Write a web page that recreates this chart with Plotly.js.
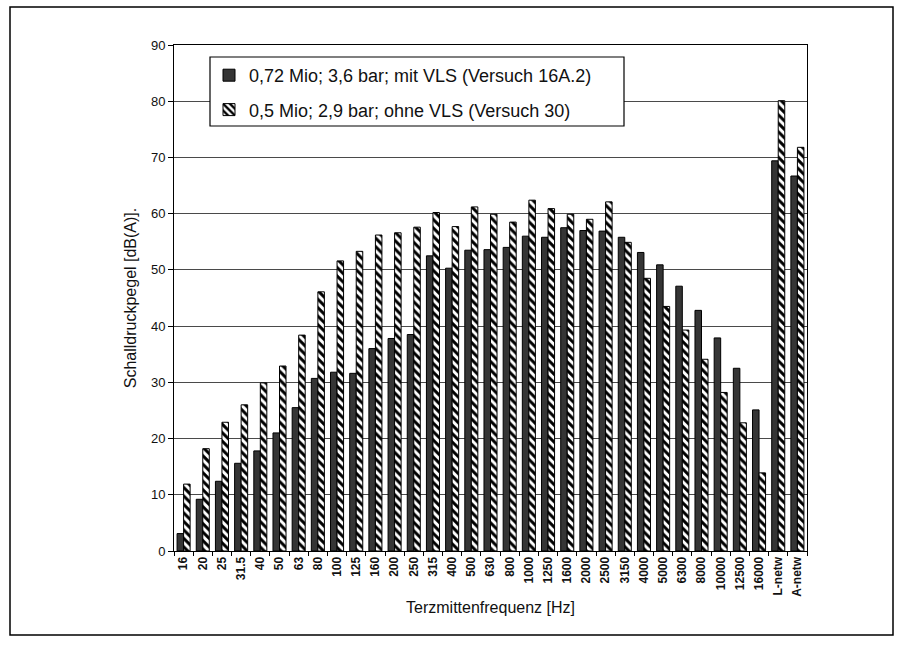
<!DOCTYPE html>
<html>
<head>
<meta charset="utf-8">
<script src="https://cdn.plot.ly/plotly-3.0.1.min.js"></script>
<style>
html,body{margin:0;padding:0;background:#fff;}
#chart{width:904px;height:649px;}
</style>
</head>
<body>
<div id="chart"></div>
<script>
const categories = ["16","20","25","31.5","40","50","63","80","100","125","160","200","250","315","400","500","630","800","1000","1250","1600","2000","2500","3150","4000","5000","6300","8000","10000","12500","16000","L-netw","A-netw"];
const seriesA = [3.1,9.2,12.4,15.6,17.8,21.0,25.5,30.7,31.8,31.6,36.0,37.8,38.5,52.5,50.3,53.5,53.6,54.0,56.0,55.8,57.5,57.0,56.9,55.8,53.1,50.9,47.1,42.8,37.9,32.5,25.1,69.4,66.7];
const seriesB = [11.9,18.2,22.9,26.0,29.9,32.9,38.4,46.1,51.6,53.3,56.2,56.6,57.6,60.2,57.7,61.2,59.9,58.5,62.4,60.9,59.9,59.0,62.1,54.9,48.5,43.5,39.3,34.1,28.2,22.8,13.9,80.1,71.8];
const nameA = "0,72 Mio; 3,6 bar; mit VLS (Versuch 16A.2)";
const nameB = "0,5 Mio; 2,9 bar; ohne VLS (Versuch 30)";
const yTitle = "Schalldruckpegel [dB(A)].";
const xTitle = "Terzmittenfrequenz [Hz]";

const font = "Liberation Sans, Arial, sans-serif";
const L = 174, R = 807, T = 45, B = 551;
const px = v => (v - L) / (R - L);
const py = v => (B - v) / (B - T);

const traces = [
  {
    type: "bar", x: categories, y: seriesA, name: nameA, legendgroup: "a",
    marker: {color: "#353535", line: {color: "#000", width: 1}}
  },
  {
    type: "bar", x: categories, y: seriesB, name: nameB, legendgroup: "b",
    marker: {color: "#fff", line: {color: "#000", width: 1},
      pattern: {shape: "\\", fgcolor: "#000", bgcolor: "#fff", size: 6, solidity: 0.5}}
  }
];

const layout = {
  width: 904, height: 649,
  margin: {l: L, r: 904 - R, t: T, b: 649 - B},
  paper_bgcolor: "#fff", plot_bgcolor: "#fff",
  font: {family: font, color: "#111", size: 12},
  barmode: "group", bargap: 0.32, bargroupgap: 0,
  showlegend: true,
  legend: {
    x: px(209), y: py(57), xanchor: "left", yanchor: "top",
    bgcolor: "rgba(0,0,0,0)", borderwidth: 0,
    font: {family: font, size: 18, color: "#111"},
    traceorder: "grouped", tracegroupgap: 8
  },
  xaxis: {
    type: "category",
    tickangle: -90,
    tickfont: {family: font, size: 12, color: "#111", weight: "bold"},
    ticks: "outside", ticklen: 4, tickcolor: "#000", tickson: "boundaries",
    showline: true, linecolor: "#000", linewidth: 1, mirror: true,
    showgrid: false,
    title: {text: xTitle, font: {family: font, size: 16, color: "#111"}, standoff: 6}
  },
  yaxis: {
    range: [0, 90], dtick: 10,
    ticks: "outside", ticklen: 5, tickcolor: "#000",
    tickfont: {family: font, size: 13, color: "#111"},
    showline: true, linecolor: "#000", linewidth: 1, mirror: true,
    showgrid: true, gridcolor: "#4a4a4a", gridwidth: 1,
    zeroline: false,
    title: {text: yTitle, font: {family: font, size: 16, color: "#111"}, standoff: 10}
  },
  shapes: [
    {type: "rect", xref: "paper", yref: "paper",
     x0: px(10), x1: px(893), y0: py(635), y1: py(7),
     line: {color: "#000", width: 1.5}, fillcolor: "rgba(0,0,0,0)", layer: "below"},
    {type: "rect", xref: "paper", yref: "paper",
     x0: px(210), x1: px(624), y0: py(126), y1: py(57),
     line: {color: "#000", width: 1.2}, fillcolor: "#fff", layer: "above"}
  ]
};

Plotly.newPlot("chart", traces, layout, {displayModeBar: false, staticPlot: true});
</script>
</body>
</html>
